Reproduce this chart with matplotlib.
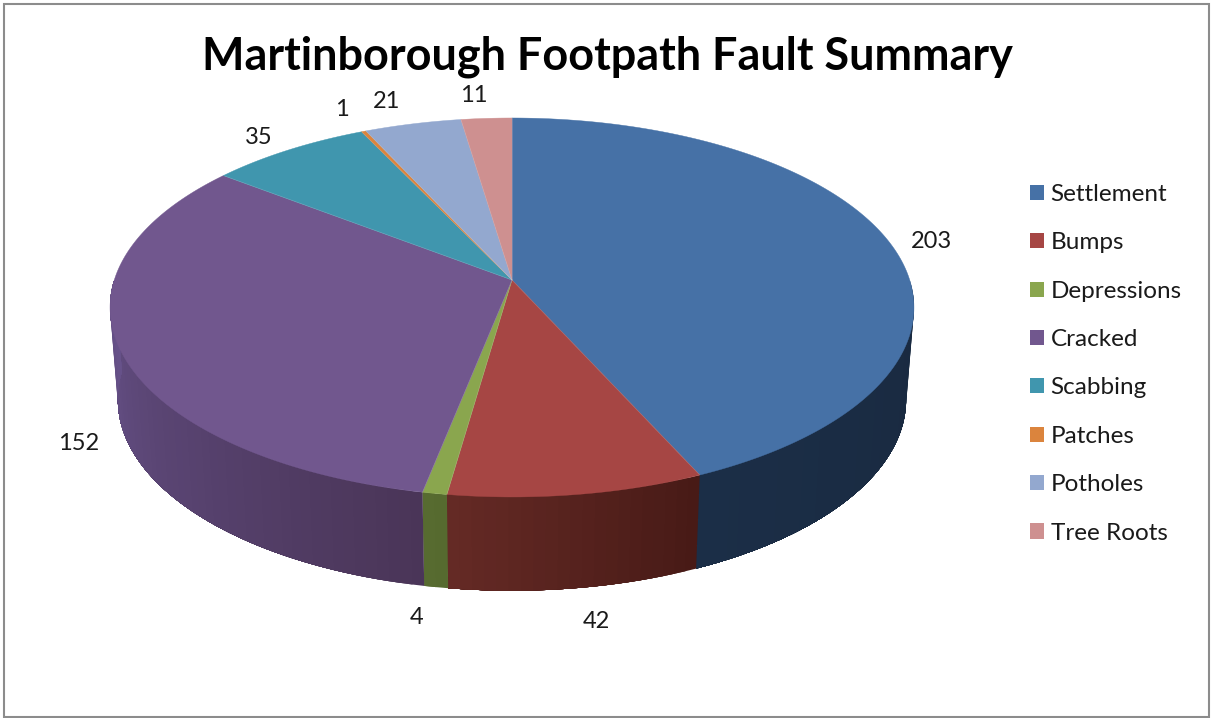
import numpy as np
import matplotlib
matplotlib.use("Agg")
import matplotlib.pyplot as plt
from matplotlib.patches import Patch, Polygon, Rectangle
from matplotlib.colors import to_rgb

# ---- data ----
categories = ["Settlement", "Bumps", "Depressions", "Cracked",
              "Scabbing", "Patches", "Potholes", "Tree Roots"]
values = [203, 42, 4, 152, 35, 1, 21, 11]
title = "Martinborough Footpath Fault Summary"

# ---- style ----
top_colors = ["#4671A6", "#A64644", "#8AA64E", "#71578E",
              "#4096AE", "#DB843D", "#93A8CF", "#CE9090"]
wall_left = ["#1B2E47", "#652A25", "#586B31", "#67528A",
             "#2A6A7C", "#9C5A24", "#6F82A6", "#A06868"]
wall_right = ["#19293F", "#471A16", "#556A2E", "#4A3558",
              "#2A6A7C", "#9C5A24", "#6F82A6", "#A06868"]
label_xy = [(931, 241), (596, 621), (417, 617), (79, 443),
            (259, 137), (342, 109), (387, 102), (474, 96)]

W, H = 1211, 718
CX = 512
TOP = dict(cy=280.0, R=397.7, H=185.5, k=0.145)
BOT = dict(cy=372.0, R=390.0, H=187.0, k=0.145)


def project(theta, p, r=1.0):
    """Perspective projection of a clockwise-from-top angle onto a disc."""
    u, v = r * np.sin(theta), r * np.cos(theta)
    s = 1.0 / (1.0 + p["k"] * v)
    return CX + p["R"] * u * s, p["cy"] - p["H"] * v * s


plt.rcParams["font.family"] = ["Lato", "DejaVu Sans"]
fig = plt.figure(figsize=(W / 100, H / 100), dpi=100, facecolor="white")
ax = fig.add_axes([0, 0, 1, 1])
ax.set_xlim(0, W)
ax.set_ylim(H, 0)
ax.axis("off")

ax.add_patch(Rectangle((4, 4), 1204.5, 713, fill=False, ec="#8C8C8C", lw=1.5))

edges = np.cumsum([0] + values) / sum(values) * 2 * np.pi

# side wall, front half only: overlapping bands painted along the arc,
# so no seams appear between the shading steps
for i in range(len(values)):
    a0, a1 = max(edges[i], np.pi / 2), min(edges[i + 1], 3 * np.pi / 2)
    if a1 <= a0:
        continue
    n = max(1, int((a1 - a0) / np.radians(1.5)))
    th = np.linspace(a0, a1, n + 1)
    xt, yt = project(th, TOP)
    xb, yb = project(th, BOT)
    c_right, c_left = np.array(to_rgb(wall_right[i])), np.array(to_rgb(wall_left[i]))
    for j in range(n):
        f = (j + 0.5) / n
        col = c_right * (1 - f) + c_left * f
        pts = np.column_stack([np.r_[xt[j:], xb[j:][::-1]],
                               np.r_[yt[j:], yb[j:][::-1]]])
        ax.add_patch(Polygon(pts, closed=True, fc=col, ec="none",
                             zorder=2 + i * 0.01 + j * 1e-5))

# top face
for i in range(len(values)):
    th = np.linspace(edges[i], edges[i + 1], max(3, int(values[i] * 3)))
    x, y = project(th, TOP)
    pts = np.column_stack([np.r_[CX, x], np.r_[TOP["cy"], y]])
    ax.add_patch(Polygon(pts, closed=True, fc=top_colors[i], ec=top_colors[i],
                         lw=0.3, zorder=3))
# thin pale slice separators
for a in edges[:-1]:
    x, y = project(a, TOP)
    ax.plot([CX, x], [TOP["cy"], y], color="white", alpha=0.12, lw=0.6, zorder=4)

# data labels
for v, (lx, ly) in zip(values, label_xy):
    ax.text(lx, ly, str(v), ha="center", va="center", fontsize=17,
            color="#1A1A1A", zorder=5)

ax.text(607, 57, title, ha="center", va="center", fontsize=32.4,
        fontweight="bold", color="black", zorder=5)

handles = [Patch(fc=c, ec="none") for c in top_colors]
ax.legend(handles, categories, loc="upper left",
          bbox_to_anchor=(1025 / W, 1 - 179 / H), bbox_transform=fig.transFigure,
          frameon=False, fontsize=17.5, labelcolor="#1A1A1A",
          handlelength=0.58, handleheight=0.58, handletextpad=0.27,
          labelspacing=1.127, borderpad=0.2, borderaxespad=0)

fig.savefig("out.png", dpi=100, facecolor="white")
